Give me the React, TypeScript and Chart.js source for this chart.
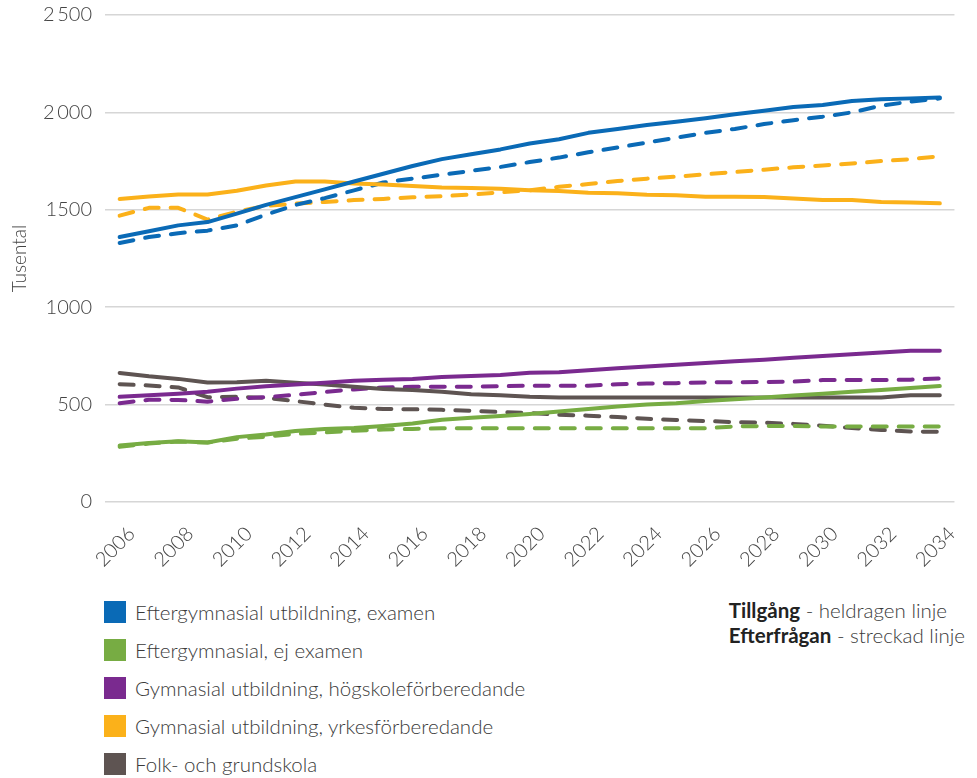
import React, { useEffect, useRef } from "react";
import { Chart, registerables } from "chart.js";

Chart.register(...registerables);

const years: string[] = [
  "2006","2007","2008","2009","2010","2011","2012","2013","2014","2015",
  "2016","2017","2018","2019","2020","2021","2022","2023","2024","2025",
  "2026","2027","2028","2029","2030","2031","2032","2033","2034",
];

const yTickValues: number[] = [0, 500, 1000, 1500, 2000, 2500];
const yTickLabels: string[] = ["0", "500", "1000", "1500", "2\u2009000", "2\u2009500"];

const seriesNames: string[] = [
  "Eftergymnasial utbildning, examen",
  "Eftergymnasial, ej examen",
  "Gymnasial utbildning, högskoleförberedande",
  "Gymnasial utbildning, yrkesförberedande",
  "Folk- och grundskola",
];
const seriesColors: string[] = ["#0a6ab6", "#77ac43", "#7a2a8f", "#fbb11a", "#5e5452"];

// Tillgång (solid)
const eftExamenSupply: number[] = [
  1360, 1390, 1420, 1437, 1480, 1525, 1565, 1605, 1645, 1685,
  1725, 1760, 1785, 1810, 1840, 1862, 1895, 1915, 1935, 1952,
  1970, 1990, 2008, 2028, 2038, 2058, 2067, 2072, 2077,
];
const eftEjExamenSupply: number[] = [
  290, 303, 312, 305, 333, 347, 365, 375, 380, 390,
  403, 422, 432, 442, 452, 465, 478, 490, 500, 507,
  518, 527, 537, 547, 556, 566, 575, 585, 595,
];
const gymHogskolaSupply: number[] = [
  540, 548, 556, 566, 582, 594, 603, 612, 622, 628,
  632, 642, 647, 652, 663, 666, 676, 686, 695, 705,
  713, 722, 730, 740, 749, 758, 768, 777, 777,
];
const gymYrkesSupply: number[] = [
  1555, 1568, 1578, 1578, 1598, 1625, 1645, 1645, 1635, 1630,
  1622, 1615, 1612, 1608, 1600, 1597, 1588, 1585, 1577, 1575,
  1567, 1567, 1566, 1558, 1550, 1550, 1540, 1538, 1533,
];
const folkGrundSupply: number[] = [
  662, 645, 632, 614, 615, 622, 612, 603, 592, 580,
  575, 566, 553, 548, 540, 537, 537, 537, 537, 537,
  537, 537, 537, 537, 537, 537, 537, 548, 548,
];

// Efterfrågan (dashed)
const eftExamenDemand: number[] = [
  1330, 1360, 1380, 1393, 1420, 1475, 1525, 1560, 1600, 1640,
  1660, 1680, 1700, 1720, 1745, 1768, 1795, 1820, 1845, 1870,
  1895, 1915, 1940, 1960, 1978, 2000, 2035, 2055, 2072,
];
const eftEjExamenDemand: number[] = [
  283, 300, 310, 305, 325, 335, 350, 357, 366, 372,
  375, 378, 378, 378, 378, 378, 378, 378, 378, 378,
  378, 388, 390, 390, 387, 387, 387, 387, 387,
];
const gymHogskolaDemand: number[] = [
  507, 525, 524, 515, 530, 538, 550, 565, 578, 588,
  592, 592, 592, 594, 597, 597, 597, 605, 608, 610,
  614, 615, 616, 618, 626, 626, 626, 628, 634,
];
const gymYrkesDemand: number[] = [
  1470, 1510, 1510, 1450, 1490, 1520, 1532, 1540, 1550, 1556,
  1564, 1570, 1578, 1590, 1600, 1618, 1632, 1648, 1660, 1670,
  1682, 1694, 1706, 1718, 1728, 1738, 1750, 1760, 1775,
];
const folkGrundDemand: number[] = [
  605, 598, 588, 538, 540, 535, 518, 500, 484, 478,
  476, 473, 468, 462, 456, 448, 443, 436, 427, 421,
  416, 410, 407, 401, 392, 380, 370, 362, 360,
];

const supplySeries: number[][] = [
  eftExamenSupply, eftEjExamenSupply, gymHogskolaSupply, gymYrkesSupply, folkGrundSupply,
];
const demandSeries: number[][] = [
  eftExamenDemand, eftEjExamenDemand, gymHogskolaDemand, gymYrkesDemand, folkGrundDemand,
];

const FONT = "Lato, 'Open Sans', sans-serif";
const CANVAS_W = 977;
const CANVAS_H = 590;
const PLOT_BOTTOM = 502;

export default function App() {
  const canvasRef = useRef<HTMLCanvasElement | null>(null);

  useEffect(() => {
    if (!canvasRef.current) return;
    const solid = supplySeries.map((data, i) => ({
      label: seriesNames[i] + " (tillgång)",
      data,
      borderColor: seriesColors[i],
      backgroundColor: seriesColors[i],
      borderWidth: 4,
      pointRadius: 0,
      tension: 0,
      borderCapStyle: "round" as const,
      borderJoinStyle: "round" as const,
      fill: false,
    }));
    const dashed = demandSeries.map((data, i) => ({
      label: seriesNames[i] + " (efterfrågan)",
      data,
      borderColor: seriesColors[i],
      backgroundColor: seriesColors[i],
      borderWidth: 4,
      borderDash: [14, 12],
      pointRadius: 0,
      tension: 0,
      borderCapStyle: "round" as const,
      borderJoinStyle: "round" as const,
      fill: false,
    }));
    const chart = new Chart(canvasRef.current, {
      type: "line",
      data: { labels: years, datasets: [...solid, ...dashed] },
      options: {
        animation: false,
        responsive: false,
        maintainAspectRatio: false,
        layout: { padding: { top: 15, right: 12, left: 0, bottom: 0 } },
        plugins: { legend: { display: false }, tooltip: { enabled: false } },
        scales: {
          x: {
            type: "category",
            offset: true,
            grid: { display: false, drawTicks: false },
            border: { display: false },
            afterFit: (scale: any) => {
              scale.height = CANVAS_H - PLOT_BOTTOM;
            },
            ticks: {
              autoSkip: false,
              maxRotation: 45,
              minRotation: 45,
              padding: 20,
              labelOffset: 12,
              color: "#444",
              font: { family: FONT, size: 20, weight: 300 },
              callback: (_v: any, i: number) => (i % 2 === 0 ? years[i] : ""),
            },
          },
          y: {
            min: 0,
            max: 2500,
            afterFit: (scale: any) => {
              scale.width = 105;
              scale.paddingTop = 0;
              scale.paddingBottom = 0;
            },
            afterBuildTicks: (scale: any) => {
              scale.ticks = yTickValues.map((v) => ({ value: v }));
            },
            grid: { color: "#d6d6d6", lineWidth: 1.5, drawTicks: false },
            border: { display: false },
            ticks: {
              padding: 13,
              color: "#444",
              font: { family: FONT, size: 20, weight: 300 },
              callback: (v: any) => {
                const idx = yTickValues.indexOf(Number(v));
                return idx >= 0 ? yTickLabels[idx] : "";
              },
            },
            title: {
              display: true,
              text: "Tusental",
              color: "#444",
              padding: { top: 8, bottom: 0 },
              font: { family: FONT, size: 19, weight: 300 },
            },
          },
        },
      },
    });
    return () => chart.destroy();
  }, []);

  const legendTop = 601;
  const legendStep = 38;

  return (
    <div
      style={{
        position: "absolute",
        left: 0,
        top: 0,
        width: CANVAS_W,
        height: 778,
        background: "#fff",
        fontFamily: FONT,
        overflow: "hidden",
      }}
    >
      <canvas
        ref={canvasRef}
        width={CANVAS_W}
        height={CANVAS_H}
        style={{ position: "absolute", left: 0, top: 0, width: CANVAS_W, height: CANVAS_H }}
      />
      {seriesNames.map((name, i) => (
        <div
          key={name}
          style={{
            position: "absolute",
            left: 104,
            top: legendTop + i * legendStep,
            height: 22,
            display: "flex",
            alignItems: "center",
            whiteSpace: "nowrap",
          }}
        >
          <div style={{ width: 22, height: 22, background: seriesColors[i], marginRight: 9 }} />
          <span style={{ fontSize: 20.5, fontWeight: 300, color: "#3a3a3a", lineHeight: "22px" }}>
            {name}
          </span>
        </div>
      ))}
      <div
        style={{
          position: "absolute",
          right: 12,
          top: 598,
          textAlign: "left",
          fontSize: 20.5,
          lineHeight: "25px",
          color: "#3a3a3a",
          fontWeight: 300,
          whiteSpace: "nowrap",
        }}
      >
        <div>
          <span style={{ fontWeight: 700, color: "#222" }}>Tillgång</span> - heldragen linje
        </div>
        <div>
          <span style={{ fontWeight: 700, color: "#222" }}>Efterfrågan</span> - streckad linje
        </div>
      </div>
    </div>
  );
}
